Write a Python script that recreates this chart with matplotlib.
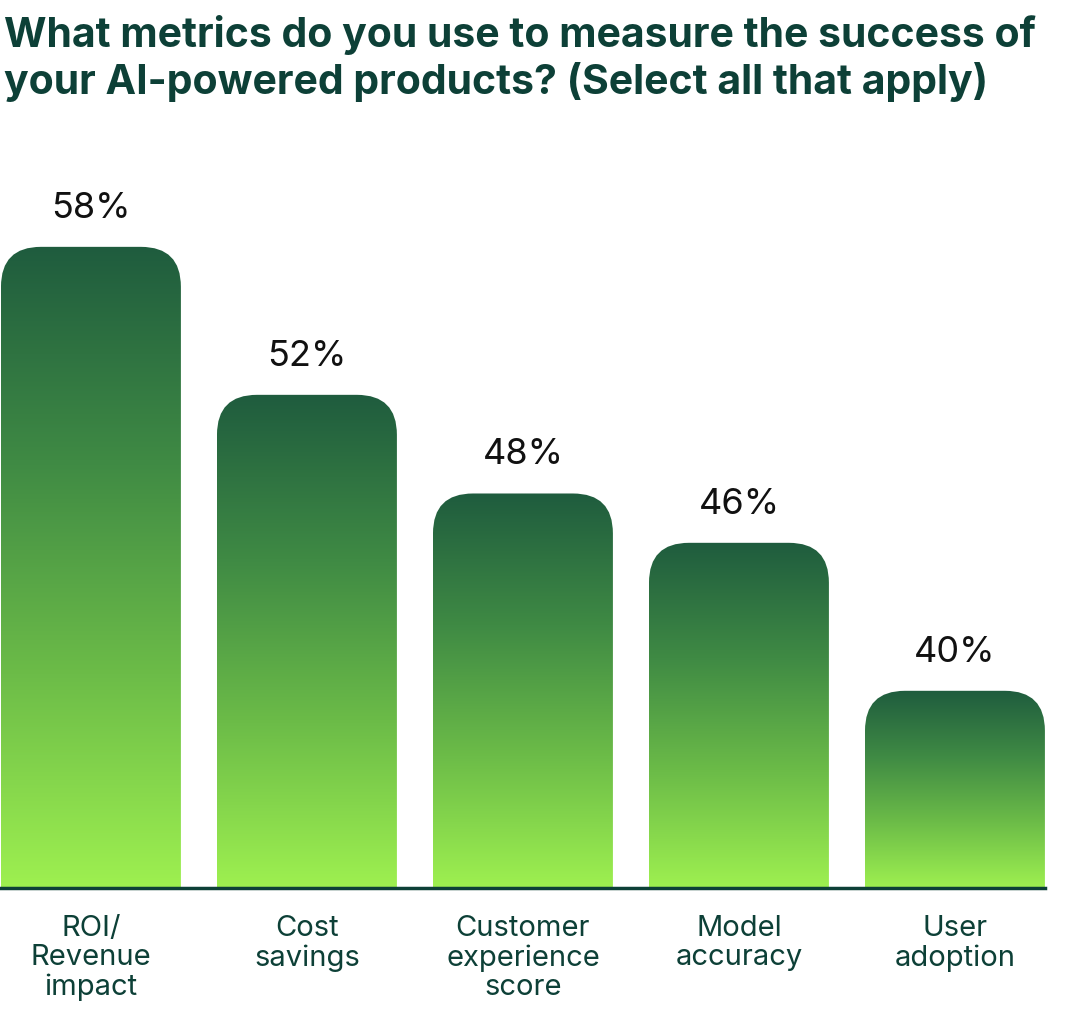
import numpy as np
import matplotlib
matplotlib.use("Agg")
import matplotlib.pyplot as plt
from matplotlib.path import Path
from matplotlib.patches import PathPatch
from matplotlib.colors import LinearSegmentedColormap

categories = ["ROI/\nRevenue\nimpact", "Cost\nsavings", "Customer\nexperience\nscore", "Model\naccuracy", "User\nadoption"]
values = [58, 52, 48, 46, 40]
value_labels = ["58%", "52%", "48%", "46%", "40%"]

plt.rcParams['font.family'] = ['Inter', 'DejaVu Sans']
fig = plt.figure(figsize=(10.88, 10.22), dpi=100)
ax = fig.add_axes([0, 0.131, 0.9605, 0.724])
ymin = 32
ax.set_xlim(-0.421, 4.417)
ax.set_ylim(ymin, 62)
ax.axis('off')

cmap = LinearSegmentedColormap.from_list('g', ['#9ef050', '#6cbc48', '#3f8a44', '#1f5c3e'])
grad = np.linspace(0, 1, 256).reshape(-1, 1)
w = 0.833
rx = 40 / 216
ry = 40 * 30 / 740
for i, v in enumerate(values):
    x0, x1 = i - w / 2, i + w / 2
    verts = [(x0, ymin), (x0, v - ry), (x0, v), (x0 + rx, v),
             (x1 - rx, v), (x1, v), (x1, v - ry), (x1, ymin), (x0, ymin)]
    codes = [Path.MOVETO, Path.LINETO, Path.CURVE3, Path.CURVE3,
             Path.LINETO, Path.CURVE3, Path.CURVE3, Path.LINETO, Path.CLOSEPOLY]
    patch = PathPatch(Path(verts, codes), facecolor='none', edgecolor='none')
    ax.add_patch(patch)
    im = ax.imshow(grad, cmap=cmap, extent=[x0, x1, ymin, v], origin='lower',
                   aspect='auto', zorder=1)
    im.set_clip_path(patch)
    ax.text(i, v + 0.9, value_labels[i], ha='center', va='bottom', fontsize=26, color='#111111')
    ax.text(i, ymin - 1.1, categories[i], ha='center', va='top', fontsize=21,
            color='#0d4037', linespacing=1.1)

ax.plot([-0.421, 4.417], [ymin, ymin], color='#0d4037', lw=2.5, zorder=3, clip_on=False)

fig.text(0.004, 0.985, "What metrics do you use to measure the success of\nyour AI-powered products? (Select all that apply)",
         ha='left', va='top', fontsize=29.5, fontweight='bold', color='#0d4037', linespacing=1.2)
fig.savefig("out.png", dpi=100)
